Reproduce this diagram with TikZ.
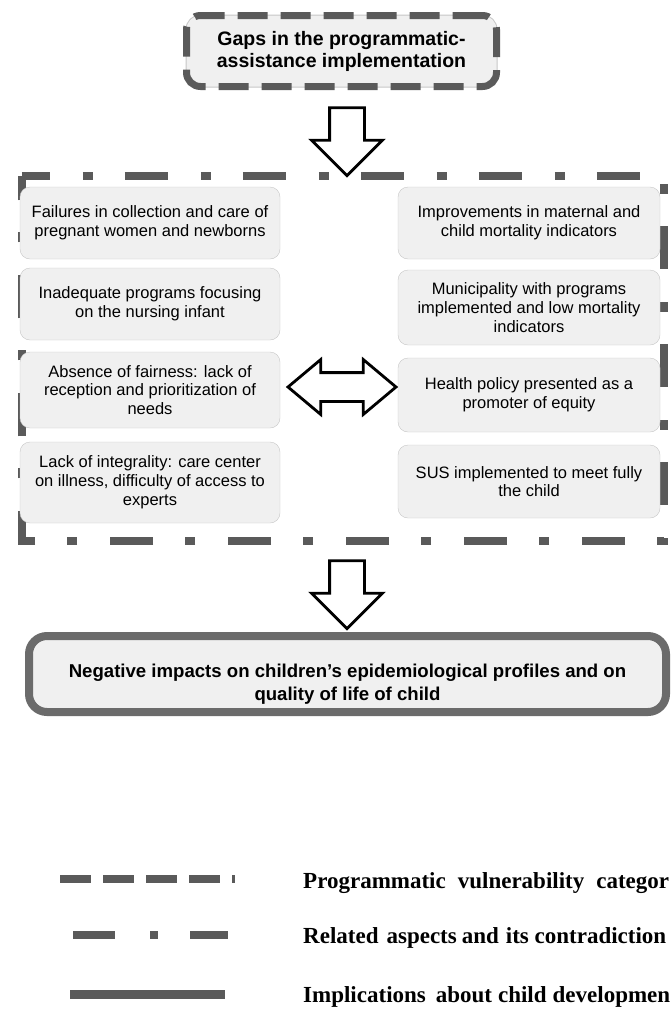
\documentclass[tikz,border=0pt]{standalone}
\usepackage{fontspec}
\setmainfont{Liberation Serif}
\setsansfont{Liberation Sans}
\usetikzlibrary{shapes.arrows}

\definecolor{dashgray}{HTML}{5A5A5A}
\definecolor{boxfill}{HTML}{F0F0F0}
\definecolor{boxline}{HTML}{C6C6C6}

\tikzset{
    item/.style={draw=boxline, fill=boxfill, rounded corners=10pt, align=center,
        minimum width=260pt, minimum height=72pt, inner sep=2pt,
        font=\sffamily\fontsize{16.5}{18.8}\selectfont},
    downarrow/.style={draw=black, line width=2.8pt, fill=white, single arrow,
        shape border rotate=270, inner sep=16pt, single arrow head extend=18pt,
        minimum height=68pt},
    bothways/.style={draw=black, line width=2.8pt, fill=white, double arrow,
        inner sep=13pt, double arrow head extend=13pt, double arrow tip angle=80,
        minimum height=108pt},
    legendtext/.style={anchor=base west, inner sep=0pt,
        font=\bfseries\fontsize{23}{25}\selectfont}
}

\begin{document}
\begin{tikzpicture}[x=1pt, y=-1pt]
    \useasboundingbox (0,0) rectangle (670,1023);

    % top category
    \node[draw=dashgray, line width=7pt, dash pattern=on 30pt off 13pt,
        preaction={draw=gray!45, line width=2pt, solid},
        fill=boxfill, rounded corners=14pt, minimum width=310pt, minimum height=71pt,
        align=center, font=\sffamily\bfseries\fontsize{19.5}{22}\selectfont]
        (gaps) at (341.5,51) {Gaps in the programmatic-\\assistance implementation};

    \node[downarrow] (down1) at (347,133) {};

    % related aspects and contradictions
    \node[minimum width=642pt, minimum height=365pt] (frame) at (343,358.5) {};
    \draw[dashgray, line width=8pt, dash pattern=on 43pt off 33pt on 10pt off 32pt, dash phase=15pt]
        (frame.north west) -- (frame.north east) -- (frame.south east) -- (frame.south west) -- cycle;

    \node[item] (fail) at (150,223) {Failures in collection and care of\\pregnant women and newborns};
    \node[item] (inad) at (150,304) {Inadequate programs focusing\\on the nursing infant};
    \node[item, minimum height=76pt] (fair) at (150,390) {Absence of fairness: lack of\\reception and prioritization of\\needs};
    \node[item, minimum height=81pt] (integ) at (150,482.5) {Lack of integrality: care center\\on illness, difficulty of access to\\experts};

    \node[item, minimum width=262pt] (improv) at (529,223) {Improvements in maternal and\\child mortality indicators};
    \node[item, minimum width=262pt, minimum height=75pt] (munic) at (529,307.5) {Municipality with programs\\implemented and low mortality\\indicators};
    \node[item, minimum width=262pt, minimum height=74pt] (policy) at (529,395) {Health policy presented as a\\promoter of equity};
    \node[item, minimum width=262pt, minimum height=73pt] (sus) at (529,481.5) {SUS implemented to meet fully\\the child};

    \node[bothways] (contra) at (342,387) {};

    \node[downarrow] (down2) at (347,586) {};

    % implications
    \node[draw=dashgray!90, line width=8pt, fill=boxfill, rounded corners=18pt,
        minimum width=637pt, minimum height=76pt] (impact) at (347.5,674) {};
    \node[align=center, font=\sffamily\bfseries\fontsize{18.6}{22.5}\selectfont]
        (impacttxt) at ([yshift=-10pt]impact.center) {Negative impacts on children's epidemiological profiles and on\\quality of life of child};

    % legend
    \coordinate (l1a) at (60,879);  \coordinate (l1b) at (235,879);
    \coordinate (l2a) at (73,935);  \coordinate (l2b) at (228,935);
    \coordinate (l3a) at (70,994);  \coordinate (l3b) at (225,994);

    \draw[dashgray, line width=8pt, dash pattern=on 31pt off 12pt] (l1a) -- (l1b);
    \draw[dashgray, line width=8pt, dash pattern=on 42pt off 35pt on 8pt off 32pt on 38pt] (l2a) -- (l2b);
    \draw[dashgray, line width=9pt] (l3a) -- (l3b);

    \node[legendtext] (cat) at (303,888) {Programmatic\hspace{12pt}vulnerability\hspace{12pt}categor};
    \node[legendtext] (rel) at (303,943) {Related\hspace{8pt}aspects\hspace{5pt}and\hspace{7pt}its contradiction};
    \node[legendtext] (impl) at (303,1002) {Implications\hspace{10pt}about\hspace{6pt}child\hspace{6pt}developmen};
\end{tikzpicture}
\end{document}
